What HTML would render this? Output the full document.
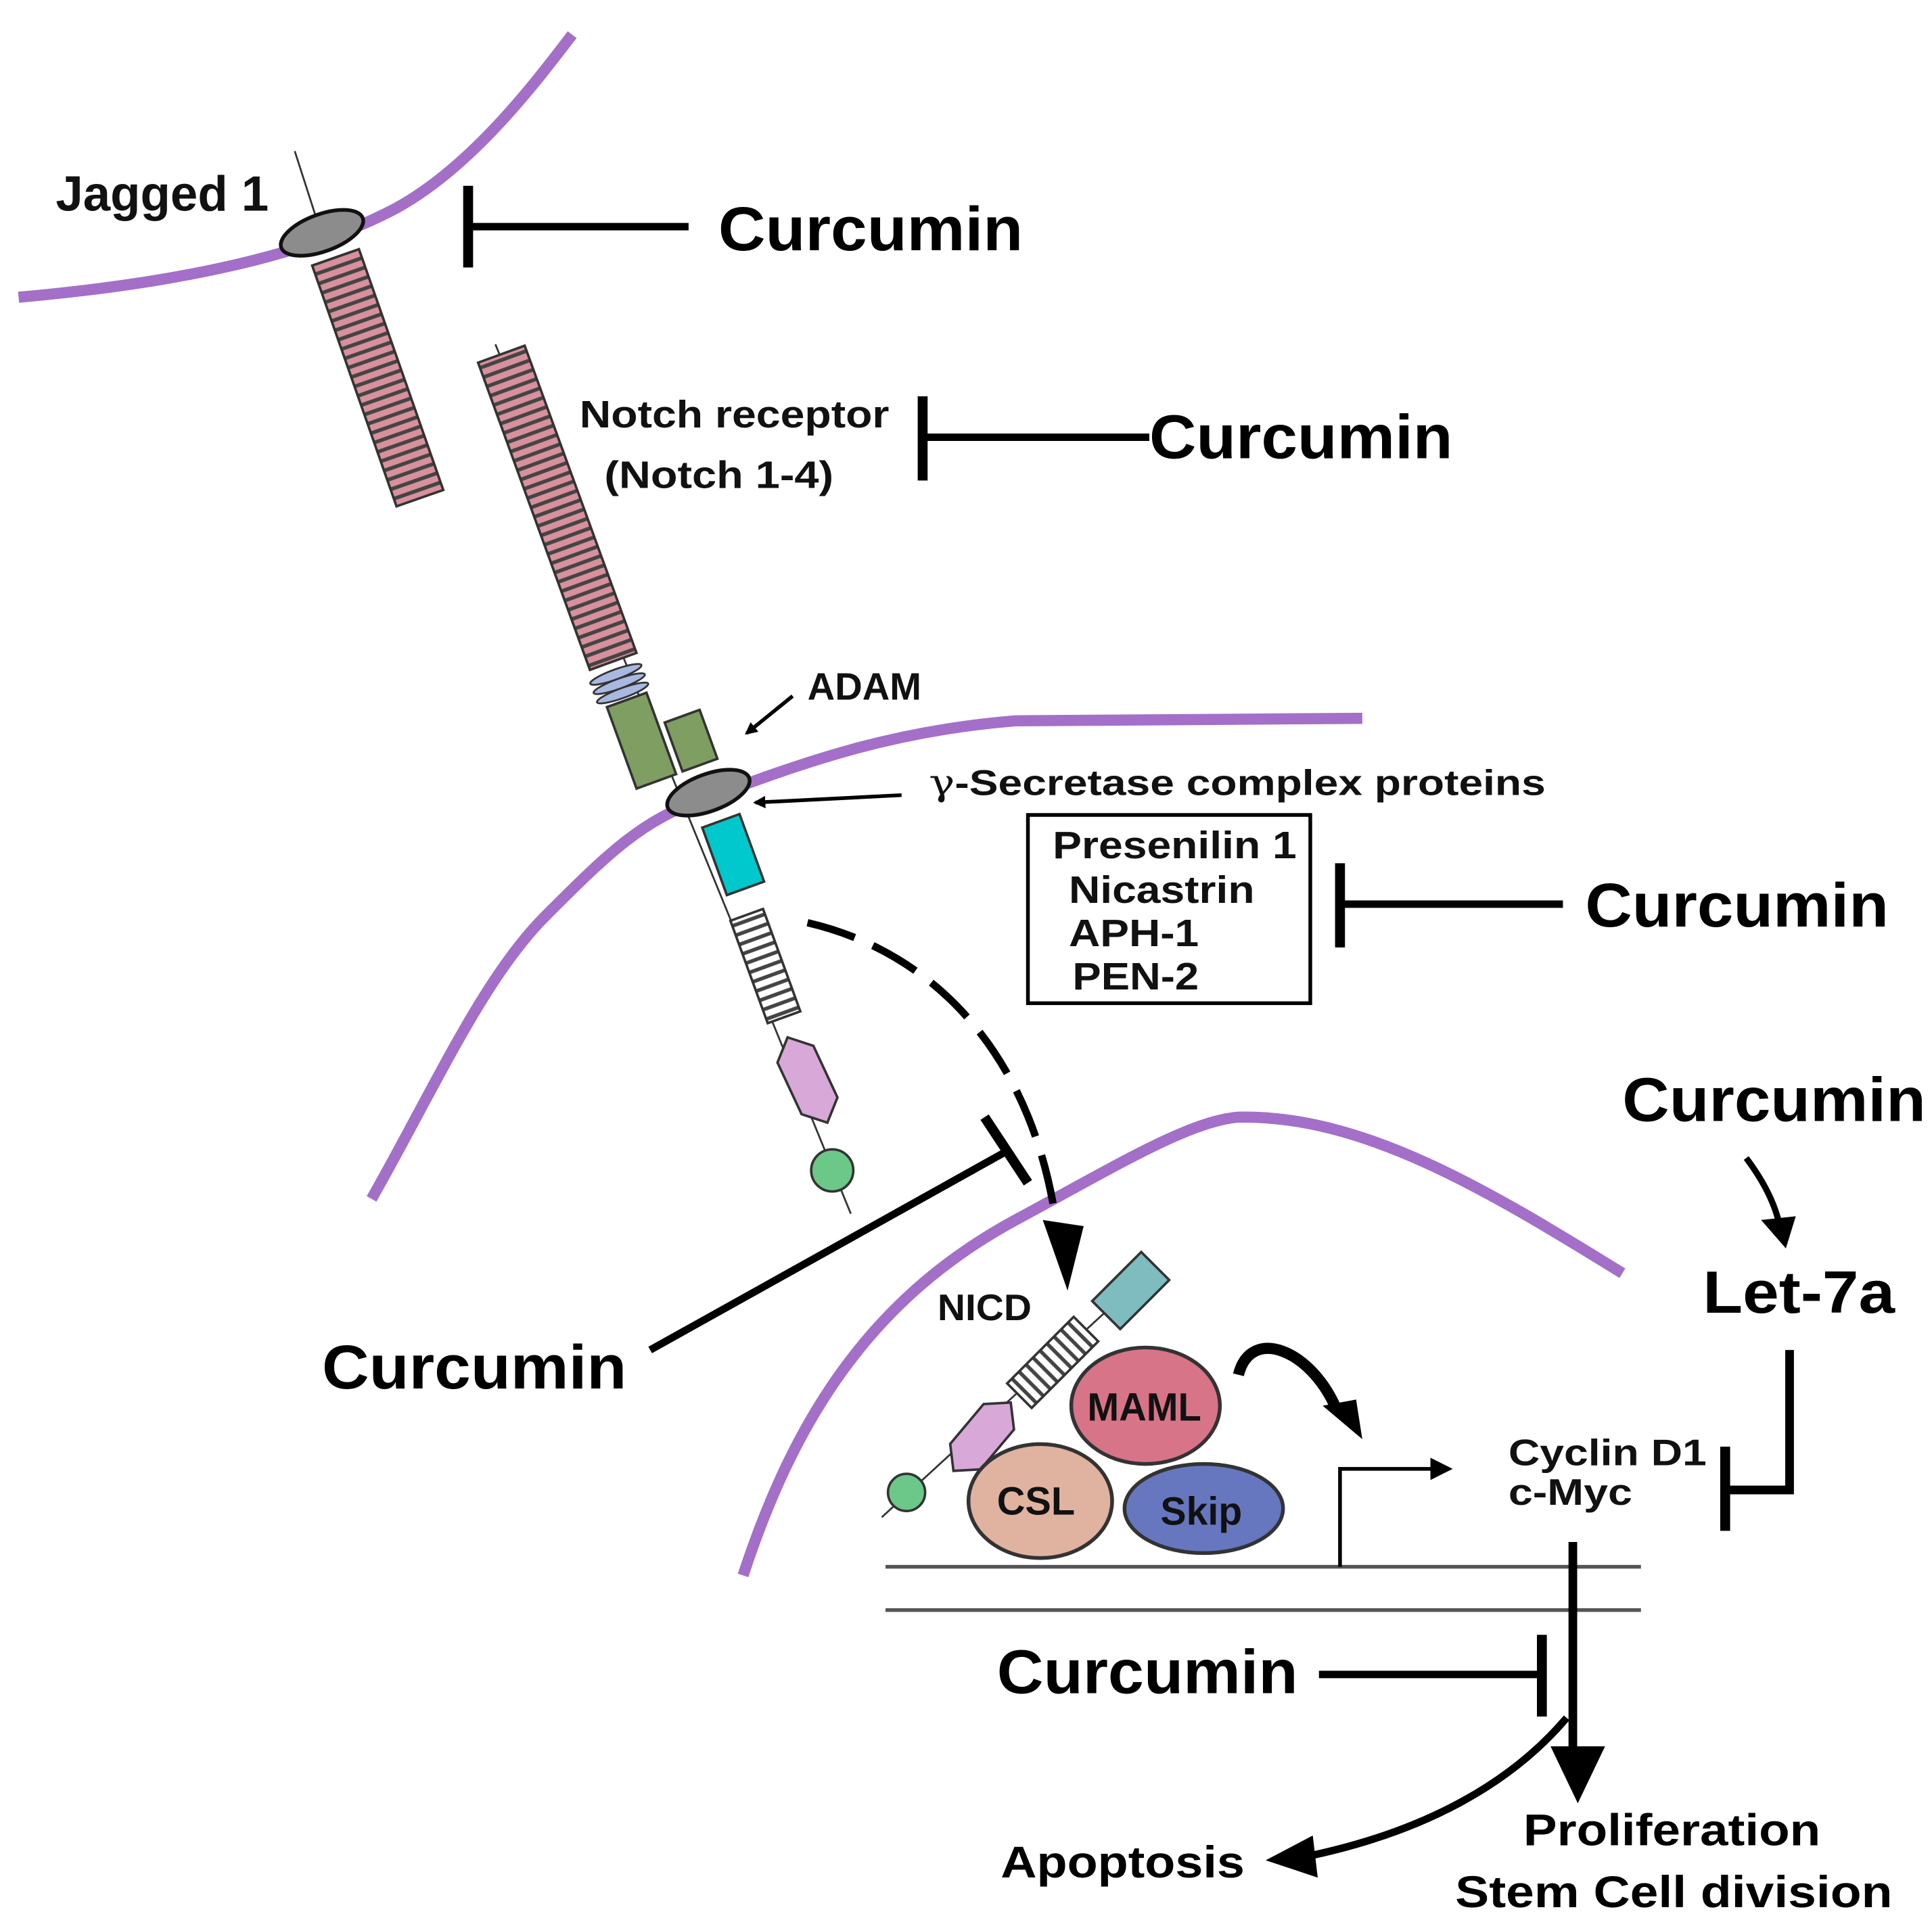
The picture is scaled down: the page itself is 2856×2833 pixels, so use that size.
<!DOCTYPE html>
<html><head><style>html,body{margin:0;padding:0;background:#fff}svg{display:block}</style></head><body>
<svg width="2856" height="2833" viewBox="0 0 1560 1547" preserveAspectRatio="none" xmlns="http://www.w3.org/2000/svg" font-family="Liberation Sans, sans-serif" font-weight="bold">
<defs>
<pattern id="pk" width="40" height="8" patternUnits="userSpaceOnUse"><rect width="40" height="8" fill="#444"/><rect y="2" width="40" height="5" fill="#d8909c"/></pattern>
<pattern id="wh" width="40" height="8" patternUnits="userSpaceOnUse"><rect width="40" height="8" fill="#444"/><rect y="2" width="40" height="5" fill="#fff"/></pattern>
<marker id="ah" markerWidth="10" markerHeight="10" refX="8" refY="5" orient="auto" markerUnits="userSpaceOnUse" viewBox="0 0 10 10"><path d="M0,0 L10,5 L0,10 z" fill="#000"/></marker>
</defs>
<g fill="none" stroke="#a46fc8" stroke-width="9">
<path d="M15,240 C150,228 250,205 320,168 C380,135 430,70 462,28"/>
<path d="M300,968 C350,880 390,790 440,740 C490,690 520,660 570,645 C650,615 720,590 820,582 L1100,580"/>
<path d="M600,1272 C640,1150 700,1050 820,985 C900,942 960,905 1000,902 C1100,900 1200,960 1310,1028"/>
</g>
<!-- Jagged -->
<line x1="238" y1="122" x2="256" y2="178" stroke="#333" stroke-width="1.5"/>
<rect x="-20" y="-103" width="40" height="206" fill="url(#pk)" stroke="#333" stroke-width="2" transform="translate(305,305) rotate(-19.3)"/>
<ellipse cx="260" cy="188" rx="35" ry="15" fill="#8c8c8c" stroke="#111" stroke-width="3" transform="rotate(-20 260 188)"/>
<!-- Notch -->
<line x1="400" y1="278" x2="687" y2="980" stroke="#333" stroke-width="1.5"/>
<rect x="-20" y="-132" width="40" height="264" fill="url(#pk)" stroke="#333" stroke-width="2" transform="translate(450,410) rotate(-20)"/>
<g transform="translate(500,552) rotate(-20)" fill="#a8b8e0" stroke="#333" stroke-width="1.5">
<ellipse cx="0" cy="-8" rx="22" ry="4"/><ellipse cx="0" cy="0" rx="22" ry="4"/><ellipse cx="0" cy="8" rx="22" ry="4"/>
</g>
<rect x="-17" y="-35" width="34" height="70" fill="#7f9e62" stroke="#333" stroke-width="2" transform="translate(518,598) rotate(-20)"/>
<rect x="-15" y="-21" width="30" height="42" fill="#7f9e62" stroke="#333" stroke-width="2" transform="translate(558,598) rotate(-20)"/>
<rect x="-16" y="-29" width="32" height="58" fill="#00c8cc" stroke="#333" stroke-width="2" transform="translate(592,690) rotate(-20)"/>
<rect x="-14" y="-44" width="28" height="88" fill="url(#wh)" stroke="#333" stroke-width="2" transform="translate(618,780) rotate(-20)"/>
<polygon points="0,-38 16,-23 16,23 0,38 -16,23 -16,-23" fill="#d8a8d8" stroke="#333" stroke-width="2" transform="translate(652,872) rotate(-25)"/>
<circle cx="672" cy="945" r="17" fill="#6cc888" stroke="#333" stroke-width="2"/>
<ellipse cx="572" cy="640" rx="35" ry="15" fill="#8c8c8c" stroke="#111" stroke-width="3" transform="rotate(-20 572 640)"/>
<!-- arrows -->
<path d="M652,745 C760,770 840,860 855,1005" fill="none" stroke="#000" stroke-width="6" stroke-dasharray="40,16"/>
<polygon points="842,985 875,990 862,1042" fill="#000"/>
<line x1="525" y1="1090" x2="812" y2="930" stroke="#000" stroke-width="6"/>
<line x1="795" y1="902" x2="830" y2="955" stroke="#000" stroke-width="8"/>
<!-- NICD complex -->
<line x1="712" y1="1225" x2="930" y2="1025" stroke="#333" stroke-width="1.5"/>
<rect x="-16" y="-28" width="32" height="56" fill="#7fbcc0" stroke="#333" stroke-width="2" transform="translate(913,1042) rotate(45)"/>
<rect x="-14" y="-38" width="28" height="76" fill="url(#wh)" stroke="#333" stroke-width="2" transform="translate(850,1100) rotate(45)"/>
<polygon points="0,-36 16,-21 16,21 0,36 -16,21 -16,-21" fill="#d8a8d8" stroke="#333" stroke-width="2" transform="translate(793,1160) rotate(40)"/>
<circle cx="732" cy="1205" r="15" fill="#6cc888" stroke="#333" stroke-width="2"/>
<ellipse cx="925" cy="1135" rx="60" ry="47" fill="#d87488" stroke="#333" stroke-width="3"/>
<ellipse cx="840" cy="1212" rx="58" ry="46" fill="#e0b2a0" stroke="#333" stroke-width="3"/>
<ellipse cx="972" cy="1218" rx="64" ry="36" fill="#6677c0" stroke="#333" stroke-width="3"/>
<g font-size="32" fill="#111" lengthAdjust="spacingAndGlyphs">
<text x="878" y="1147" textLength="92" lengthAdjust="spacingAndGlyphs">MAML</text>
<text x="805" y="1223" textLength="63" lengthAdjust="spacingAndGlyphs">CSL</text>
<text x="937" y="1231" textLength="66" lengthAdjust="spacingAndGlyphs">Skip</text>
</g>
<text x="757" y="1066" font-size="30" fill="#111" textLength="76" lengthAdjust="spacingAndGlyphs">NICD</text>
<path d="M1000,1110 C1010,1070 1060,1090 1080,1140" fill="none" stroke="#000" stroke-width="9"/>
<polygon points="1068,1135 1095,1130 1100,1162" fill="#000"/>
<!-- DNA -->
<line x1="715" y1="1265" x2="1325" y2="1265" stroke="#555" stroke-width="3"/>
<line x1="715" y1="1300" x2="1325" y2="1300" stroke="#555" stroke-width="3"/>
<path d="M1082,1265 V1186 H1160" fill="none" stroke="#000" stroke-width="3"/>
<polygon points="1155,1177 1173,1186 1155,1195" fill="#000"/>
<text x="1218" y="1183" font-size="30" fill="#111" textLength="160" lengthAdjust="spacingAndGlyphs">Cyclin D1</text>
<text x="1218" y="1215" font-size="30" fill="#111" textLength="100" lengthAdjust="spacingAndGlyphs">c-Myc</text>
<!-- Let-7a -->
<text x="1310" y="905" font-size="50" fill="#000" textLength="245" lengthAdjust="spacingAndGlyphs">Curcumin</text>
<path d="M1410,935 C1425,955 1435,975 1438,995" fill="none" stroke="#000" stroke-width="5"/>
<polygon points="1422,985 1450,982 1442,1008" fill="#000"/>
<text x="1375" y="1060" font-size="48" fill="#000" textLength="155" lengthAdjust="spacingAndGlyphs">Let-7a</text>
<path d="M1445,1090 V1203 H1393" fill="none" stroke="#000" stroke-width="7"/>
<line x1="1393" y1="1168" x2="1393" y2="1236" stroke="#000" stroke-width="8"/>
<!-- output -->
<line x1="1270" y1="1245" x2="1270" y2="1420" stroke="#000" stroke-width="7"/>
<polygon points="1252,1410 1296,1410 1274,1456" fill="#000"/>
<text x="805" y="1367" font-size="50" fill="#000" textLength="243" lengthAdjust="spacingAndGlyphs">Curcumin</text>
<line x1="1065" y1="1352" x2="1245" y2="1352" stroke="#000" stroke-width="6"/>
<line x1="1245" y1="1320" x2="1245" y2="1386" stroke="#000" stroke-width="8"/>
<path d="M1265,1387 C1220,1440 1150,1480 1050,1500" fill="none" stroke="#000" stroke-width="6"/>
<polygon points="1060,1482 1022,1502 1064,1516" fill="#000"/>
<text x="808" y="1516" font-size="36" fill="#000" textLength="197" lengthAdjust="spacingAndGlyphs">Apoptosis</text>
<text x="1230" y="1490" font-size="36" fill="#000" textLength="240" lengthAdjust="spacingAndGlyphs">Proliferation</text>
<text x="1175" y="1540" font-size="36" fill="#000" textLength="353" lengthAdjust="spacingAndGlyphs">Stem Cell division</text>
<!-- top labels -->
<text x="45" y="170" font-size="40" fill="#111" textLength="172" lengthAdjust="spacingAndGlyphs">Jagged 1</text>
<line x1="378" y1="150" x2="378" y2="216" stroke="#000" stroke-width="8"/>
<line x1="378" y1="183" x2="556" y2="183" stroke="#000" stroke-width="6"/>
<text x="580" y="202" font-size="50" fill="#000" textLength="246" lengthAdjust="spacingAndGlyphs">Curcumin</text>
<text x="468" y="345" font-size="31" fill="#111" textLength="250" lengthAdjust="spacingAndGlyphs">Notch receptor</text>
<text x="488" y="394" font-size="31" fill="#111" textLength="185" lengthAdjust="spacingAndGlyphs">(Notch 1-4)</text>
<line x1="745" y1="320" x2="745" y2="388" stroke="#000" stroke-width="8"/>
<line x1="745" y1="353" x2="928" y2="353" stroke="#000" stroke-width="6"/>
<text x="928" y="370" font-size="50" fill="#000" textLength="245" lengthAdjust="spacingAndGlyphs">Curcumin</text>
<text x="652" y="565" font-size="31" fill="#111" textLength="92" lengthAdjust="spacingAndGlyphs">ADAM</text>
<line x1="640" y1="562" x2="603" y2="592" stroke="#000" stroke-width="3" marker-end="url(#ah)"/>
<text x="750" y="642" font-size="29" fill="#111" textLength="498" lengthAdjust="spacingAndGlyphs"><tspan font-family="DejaVu Serif, serif" font-weight="normal">γ</tspan>-Secretase complex proteins</text>
<line x1="728" y1="642" x2="610" y2="648" stroke="#000" stroke-width="3" marker-end="url(#ah)"/>
<rect x="830" y="658" width="228" height="152" fill="none" stroke="#000" stroke-width="3"/>
<g font-size="31" fill="#111">
<text x="850" y="693" textLength="197" lengthAdjust="spacingAndGlyphs">Presenilin 1</text>
<text x="863" y="729" textLength="150" lengthAdjust="spacingAndGlyphs">Nicastrin</text>
<text x="863" y="764" textLength="105" lengthAdjust="spacingAndGlyphs">APH-1</text>
<text x="866" y="799" textLength="102" lengthAdjust="spacingAndGlyphs">PEN-2</text>
</g>
<line x1="1082" y1="697" x2="1082" y2="765" stroke="#000" stroke-width="8"/>
<line x1="1082" y1="730" x2="1262" y2="730" stroke="#000" stroke-width="6"/>
<text x="1280" y="748" font-size="50" fill="#000" textLength="245" lengthAdjust="spacingAndGlyphs">Curcumin</text>
<text x="260" y="1121" font-size="50" fill="#000" textLength="246" lengthAdjust="spacingAndGlyphs">Curcumin</text>
</svg>
</body></html>
